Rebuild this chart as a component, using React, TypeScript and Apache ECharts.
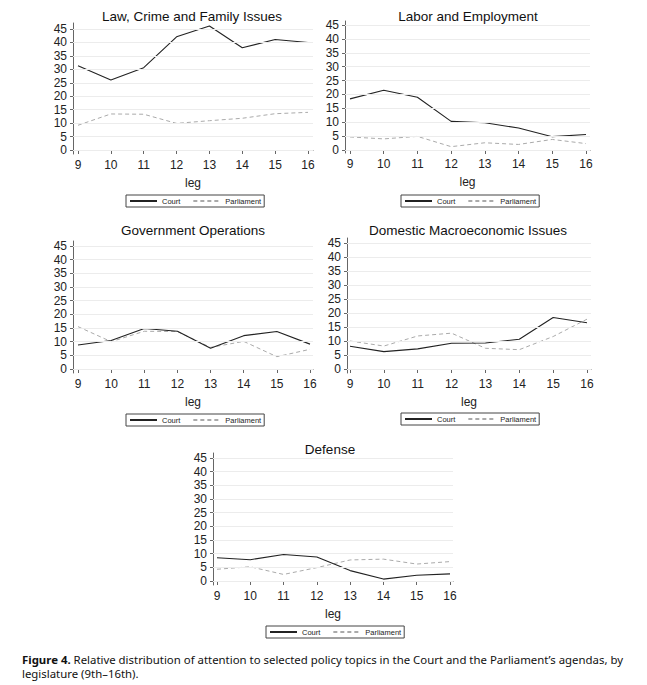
import React, { useEffect, useRef } from "react";
import * as echarts from "echarts";

const legs = [9, 10, 11, 12, 13, 14, 15, 16];
const yTicks = [0, 5, 10, 15, 20, 25, 30, 35, 40, 45];
const seriesNames = ["Court", "Parliament"];

const titles = [
  "Law, Crime and Family Issues",
  "Labor and Employment",
  "Government Operations",
  "Domestic Macroeconomic Issues",
  "Defense",
];

const lawCourt = [31.3, 26.0, 30.6, 42.1, 46.1, 38.0, 41.1, 40.0];
const lawParl = [9.2, 13.4, 13.3, 9.9, 10.9, 11.8, 13.5, 14.0];
const laborCourt = [18.4, 21.5, 19.0, 10.3, 9.8, 7.9, 4.8, 5.6];
const laborParl = [4.7, 4.0, 4.9, 1.2, 2.6, 2.0, 3.8, 2.3];
const govCourt = [8.8, 10.4, 14.8, 13.8, 7.6, 12.2, 13.7, 9.1];
const govParl = [15.5, 10.0, 13.8, 13.7, 7.9, 10.1, 4.5, 7.2];
const macroCourt = [8.1, 6.2, 7.2, 9.2, 9.3, 10.6, 18.4, 16.5];
const macroParl = [10.0, 8.2, 11.8, 12.8, 7.4, 6.9, 11.6, 17.8];
const defCourt = [8.5, 7.8, 9.7, 8.8, 3.8, 0.7, 2.1, 2.6];
const defParl = [4.3, 5.2, 2.4, 4.9, 7.7, 8.0, 6.2, 7.1];

const courtData = [lawCourt, laborCourt, govCourt, macroCourt, defCourt];
const parlData = [lawParl, laborParl, govParl, macroParl, defParl];

const captionBold = "Figure 4.";
const captionLine1 =
  " Relative distribution of attention to selected policy topics in the Court and the Parliament\u2019s agendas, by";
const captionLine2 = "legislature (9th\u201316th).";

// panel geometry in page pixels
const geo = [
  { ax: 73, x9: 78, x16: 308, xr: 313, y45: 29, y0: 150, yb: 154, yt: 23, tx: 192, ty: 16, lx: 126, ly: 195 },
  { ax: 345, x9: 350, x16: 586, xr: 590, y45: 25, y0: 150, yb: 153, yt: 21, tx: 468, ty: 16, lx: 401, ly: 195 },
  { ax: 73, x9: 78, x16: 310, xr: 313, y45: 246, y0: 369, yb: 373, yt: 241, tx: 193, ty: 230, lx: 126, ly: 414 },
  { ax: 347, x9: 350, x16: 587, xr: 591, y45: 243, y0: 369, yb: 373, yt: 238, tx: 468, ty: 230, lx: 401, ly: 413 },
  { ax: 213, x9: 217, x16: 450, xr: 453, y45: 458, y0: 581, yb: 585, yt: 453, tx: 330, ty: 449, lx: 266, ly: 626 },
];

const FONT = "'Liberation Sans', Arial, sans-serif";
const AXIS_COLOR = "#666";
const TEXT_COLOR = "#222";

export default function App() {
  const ref = useRef<HTMLDivElement>(null);

  useEffect(() => {
    if (!ref.current) return;
    const chart = echarts.init(ref.current, null, { renderer: "svg" });

    const grids: any[] = [];
    const xAxes: any[] = [];
    const yAxes: any[] = [];
    const series: any[] = [];
    const legends: any[] = [];
    const graphics: any[] = [];

    geo.forEach((g, i) => {
      const kx = (g.x16 - g.x9) / 7;
      const ky = (g.y0 - g.y45) / 45;
      const xmin = 9 - (g.x9 - g.ax) / kx;
      const xmax = 16 + (g.xr - g.x16) / kx;
      const ymin = -(g.yb - g.y0) / ky;
      const ymax = 45 + (g.y45 - g.yt) / ky;
      grids.push({ left: g.ax, top: g.yt, width: g.xr - g.ax, height: g.yb - g.yt });
      xAxes.push({
        type: "value",
        gridIndex: i,
        min: xmin,
        max: xmax,
        name: "leg",
        nameLocation: "middle",
        nameGap: 23,
        nameTextStyle: { fontFamily: FONT, fontSize: 12, color: TEXT_COLOR },
        axisLine: { show: true, lineStyle: { color: AXIS_COLOR, width: 1 } },
        axisTick: { show: true, length: 4, customValues: legs, lineStyle: { color: AXIS_COLOR } },
        axisLabel: { customValues: legs, margin: 5, fontFamily: FONT, fontSize: 12, color: TEXT_COLOR },
        splitLine: { show: false },
      });
      yAxes.push({
        type: "value",
        gridIndex: i,
        min: ymin,
        max: ymax,
        axisLine: { show: true, lineStyle: { color: AXIS_COLOR, width: 1 } },
        axisTick: { show: true, length: 3, customValues: yTicks, lineStyle: { color: AXIS_COLOR } },
        axisLabel: { customValues: yTicks, margin: 6, fontFamily: FONT, fontSize: 12, color: TEXT_COLOR },
        splitLine: { show: false },
      });
      series.push({
        type: "line",
        name: "grid",
        xAxisIndex: i,
        yAxisIndex: i,
        data: [],
        z: 1,
        silent: true,
        markLine: {
          silent: true,
          symbol: "none",
          label: { show: false },
          lineStyle: { color: "#ececec", type: "solid", width: 1 },
          data: yTicks.map((v) => ({ yAxis: v })),
        },
      });
      series.push({
        type: "line",
        name: seriesNames[0],
        xAxisIndex: i,
        yAxisIndex: i,
        symbol: "none",
        z: 3,
        lineStyle: { color: "#222", width: 1.1 },
        itemStyle: { color: "#222" },
        data: legs.map((l, j) => [l, courtData[i][j]]),
      });
      series.push({
        type: "line",
        name: seriesNames[1],
        xAxisIndex: i,
        yAxisIndex: i,
        symbol: "none",
        z: 2,
        lineStyle: { color: "#aaa", width: 1, type: [4, 3] },
        itemStyle: { color: "#aaa" },
        data: legs.map((l, j) => [l, parlData[i][j]]),
      });
      legends.push({
        data: seriesNames,
        left: g.lx,
        top: g.ly,
        orient: "horizontal",
        selectedMode: false,
        itemWidth: 27,
        itemHeight: 8,
        itemGap: 12,
        padding: [2, 3, 2, 3],
        borderColor: "#444",
        borderWidth: 1,
        borderRadius: 0,
        itemStyle: { color: "transparent", borderWidth: 0, opacity: 0 },
        textStyle: { fontFamily: FONT, fontSize: 7.5, color: TEXT_COLOR },
      });
      graphics.push({
        type: "text",
        x: g.tx,
        y: g.ty,
        style: {
          text: titles[i],
          fontFamily: FONT,
          fontSize: 13.5,
          fill: "#111",
          align: "center",
          verticalAlign: "middle",
        },
      });
    });

    graphics.push({
      type: "text",
      x: 22,
      y: 652,
      style: {
        text: "{b|" + captionBold + "}" + captionLine1 + "\n" + captionLine2,
        fontFamily: "'Noto Sans', sans-serif",
        fontSize: 11.4,
        lineHeight: 14,
        fill: "#111",
        rich: {
          b: { fontFamily: "'Noto Sans', sans-serif", fontSize: 11.4, fontWeight: "bold", lineHeight: 14, fill: "#111" },
        },
      },
    });

    chart.setOption({
      animation: false,
      backgroundColor: "#fff",
      grid: grids,
      xAxis: xAxes,
      yAxis: yAxes,
      series,
      legend: legends,
      graphic: graphics,
      tooltip: { show: false },
    });

    return () => chart.dispose();
  }, []);

  return (
    <div
      ref={ref}
      style={{ position: "absolute", left: 0, top: 0, width: 647, height: 685, background: "#fff" }}
    />
  );
}
